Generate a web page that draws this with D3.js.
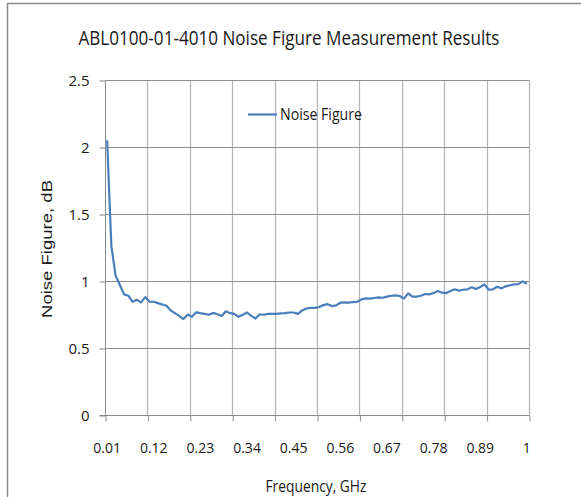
<!DOCTYPE html>
<html>
<head>
<meta charset="utf-8">
<script src="https://cdn.jsdelivr.net/npm/d3@7"></script>
<style>
  body { margin: 0; background: #fff; }
  text { font-family: "Liberation Sans Narrow", "Open Sans", sans-serif; fill: #1a1a1a; }
</style>
</head>
<body>
<svg id="chart" width="581" height="497"></svg>
<script>
// data
var TITLE = "ABL0100-01-4010 Noise Figure Measurement Results";
var SERIES_NAME = "Noise Figure";
var X_TITLE = "Frequency, GHz";
var Y_TITLE = "Noise Figure, dB";

// frequency points 0.01 .. 1.00 GHz
var freqs = d3.range(1, 101).map(function(i) { return i / 100; });
var noiseFigure = [
	2.05, 1.26, 1.04, 0.97, 0.90, 0.89, 0.845, 0.86, 0.84, 0.88,
	0.845, 0.845, 0.835, 0.825, 0.815, 0.78, 0.76, 0.74, 0.716, 0.75,
	0.733, 0.766, 0.76, 0.755, 0.748, 0.762, 0.752, 0.739, 0.774, 0.76,
	0.755, 0.733, 0.748, 0.765, 0.74, 0.72, 0.752, 0.748, 0.755, 0.755,
	0.755, 0.758, 0.76, 0.765, 0.765, 0.755, 0.78, 0.795, 0.80, 0.80,
	0.806, 0.82, 0.827, 0.813, 0.818, 0.838, 0.84, 0.838, 0.843, 0.845,
	0.863, 0.87, 0.868, 0.873, 0.878, 0.875, 0.883, 0.89, 0.893, 0.888,
	0.868, 0.908, 0.883, 0.883, 0.89, 0.903, 0.90, 0.91, 0.925, 0.913,
	0.91, 0.925, 0.938, 0.928, 0.935, 0.938, 0.953, 0.94, 0.955, 0.975,
	0.935, 0.938, 0.957, 0.945, 0.96, 0.968, 0.975, 0.977, 0.997, 0.98
];
var xTickLabels = [0.01, 0.12, 0.23, 0.34, 0.45, 0.56, 0.67, 0.78, 0.89, 1];
var xGridLines = d3.range(0, 11).map(function(k) { return 0.005 + k * 0.1; });
var yTicks = [0, 0.5, 1, 1.5, 2, 2.5];

var svg = d3.select("#chart");

// chart frame
svg.append("rect")
	.attr("x", 7.5).attr("y", 3.5)
	.attr("width", 620).attr("height", 600)
	.attr("fill", "none")
	.attr("stroke", "#8a8a8a")
	.attr("stroke-width", 1.5);

var PLOT = { left: 105, right: 529, top: 80, bottom: 415 };

// category-style x axis: each point sits in the middle of its slot
var x = d3.scaleLinear().domain([0.005, 1.005]).range([PLOT.left, PLOT.right]);
var y = d3.scaleLinear().domain([0, 2.5]).range([PLOT.bottom, PLOT.top]);

// gridlines
svg.append("g").selectAll("line")
	.data(xGridLines.slice(1))
	.enter().append("line")
	.attr("x1", function(d) { return Math.round(x(d)) + 0.5; })
	.attr("x2", function(d) { return Math.round(x(d)) + 0.5; })
	.attr("y1", PLOT.top)
	.attr("y2", PLOT.bottom)
	.attr("stroke", "#b4b4b4")
	.attr("stroke-width", 1.3);

svg.append("g").selectAll("line")
	.data(yTicks.slice(1))
	.enter().append("line")
	.attr("x1", PLOT.left)
	.attr("x2", PLOT.right)
	.attr("y1", function(d) { return Math.round(y(d)) + 0.5; })
	.attr("y2", function(d) { return Math.round(y(d)) + 0.5; })
	.attr("stroke", "#8f8f8f")
	.attr("stroke-width", 1);

// y axis
var yAxis = d3.axisLeft(y).tickValues(yTicks).tickSize(6).tickPadding(10)
	.tickFormat(function(d) { return d3.format("")(d); });
var gy = svg.append("g").attr("transform", "translate(" + (PLOT.left + 0.5) + ",0.5)").call(yAxis);
gy.selectAll("path, line").attr("stroke", "#8a8a8a");
gy.select(".domain").attr("d", "M0," + PLOT.top + "V" + PLOT.bottom);
gy.selectAll("text").style("font-size", "15px").attr("fill", "#1a1a1a");

// x axis: ticks on the gridlines, labels on every 11th point
var xAxis = d3.axisBottom(x).tickValues(xGridLines).tickSize(6).tickFormat("");
var gx = svg.append("g").attr("transform", "translate(0.5," + (PLOT.bottom + 0.5) + ")").call(xAxis);
gx.selectAll("path, line").attr("stroke", "#8a8a8a");
gx.select(".domain").attr("d", "M" + (PLOT.left - 6) + ",0H" + PLOT.right);

svg.append("g").selectAll("text")
	.data(xTickLabels)
	.enter().append("text")
	.attr("x", function(d) { return x(d); })
	.attr("y", 453)
	.attr("text-anchor", "middle")
	.style("font-size", "14px")
	.text(function(d) { return d3.format("")(d); });

// the series
var line = d3.line()
	.x(function(d, i) { return x(freqs[i]); })
	.y(function(d) { return y(d); });

svg.append("path")
	.datum(noiseFigure)
	.attr("d", line)
	.attr("fill", "none")
	.attr("stroke", "#4a7ebb")
	.attr("stroke-width", 2.2)
	.attr("stroke-linejoin", "round");

// legend
svg.append("line")
	.attr("x1", 248).attr("x2", 277)
	.attr("y1", 114.5).attr("y2", 114.5)
	.attr("stroke", "#4a7ebb")
	.attr("stroke-width", 2.2);
svg.append("text")
	.attr("x", 280).attr("y", 120)
	.attr("textLength", 82).attr("lengthAdjust", "spacingAndGlyphs")
	.style("font-size", "17px")
	.text(SERIES_NAME);

// titles
svg.append("text")
	.attr("x", 289).attr("y", 45)
	.attr("text-anchor", "middle")
	.attr("textLength", 421).attr("lengthAdjust", "spacingAndGlyphs")
	.style("font-size", "20px")
	.text(TITLE);

svg.append("text")
	.attr("x", 316).attr("y", 492)
	.attr("text-anchor", "middle")
	.attr("textLength", 101).attr("lengthAdjust", "spacingAndGlyphs")
	.style("font-size", "16px")
	.text(X_TITLE);

svg.append("text")
	.attr("transform", "translate(52,249) rotate(-90)")
	.attr("text-anchor", "middle")
	.attr("textLength", 138).attr("lengthAdjust", "spacingAndGlyphs")
	.style("font-family", "'Liberation Sans', Arial, sans-serif")
	.style("font-size", "14px")
	.text(Y_TITLE);
</script>
</body>
</html>
